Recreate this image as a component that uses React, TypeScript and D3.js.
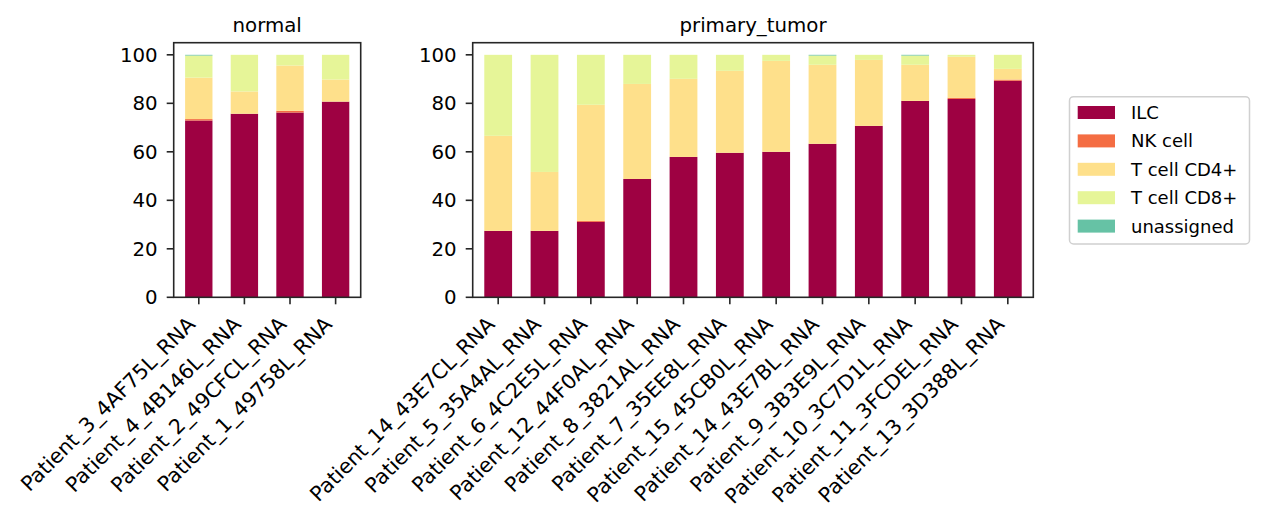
import React, { useRef, useEffect } from 'react';
import * as d3 from 'd3';

const cellTypes = ['ILC', 'NK cell', 'T cell CD4+', 'T cell CD8+', 'unassigned'];
const cellColors = ['#9e0142', '#f46d43', '#fee08b', '#e6f598', '#66c2a5'];

const normalSamples = [
  'Patient_3_4AF75L_RNA',
  'Patient_4_4B146L_RNA',
  'Patient_2_49CFCL_RNA',
  'Patient_1_49758L_RNA',
];
const normalILC = [72.9, 75.7, 76.2, 80.7];
const normalNK = [0.6, 0, 0.7, 0];
const normalCD4 = [17.1, 9.2, 18.7, 9.1];
const normalCD8 = [9.1, 15.1, 4.4, 10.2];
const normalUnassigned = [0.3, 0, 0, 0];

const tumorSamples = [
  'Patient_14_43E7CL_RNA',
  'Patient_5_35A4AL_RNA',
  'Patient_6_4C2E5L_RNA',
  'Patient_12_44F0AL_RNA',
  'Patient_8_3821AL_RNA',
  'Patient_7_35EE8L_RNA',
  'Patient_15_45CB0L_RNA',
  'Patient_14_43E7BL_RNA',
  'Patient_9_3B3E9L_RNA',
  'Patient_10_3C7D1L_RNA',
  'Patient_11_3FCDEL_RNA',
  'Patient_13_3D388L_RNA',
];
const tumorILC = [27.4, 27.4, 31.1, 48.8, 57.9, 59.6, 60.0, 63.3, 70.7, 81.0, 81.8, 89.3];
const tumorNK = [0, 0, 0.4, 0, 0, 0, 0, 0, 0, 0, 0.5, 0.5];
const tumorCD4 = [39.2, 24.3, 47.9, 39.2, 32.2, 33.8, 37.5, 32.6, 27.2, 14.9, 16.9, 4.4];
const tumorCD8 = [33.4, 48.3, 20.6, 12.0, 9.9, 6.6, 2.5, 3.8, 2.1, 3.8, 0.8, 5.8];
const tumorUnassigned = [0, 0, 0, 0, 0, 0, 0, 0.3, 0, 0.3, 0, 0];

const yTicks = [0, 20, 40, 60, 80, 100];

const WIDTH = 1263;
const HEIGHT = 524;
const FONT = '"DejaVu Sans", sans-serif';
const INK = '#262626';

interface Panel {
  title: string;
  samples: string[];
  series: number[][];
  left: number;
  right: number;
}

const App: React.FC = () => {
  const svgRef = useRef<SVGSVGElement>(null);

  useEffect(() => {
    if (!svgRef.current) return;
    const root = d3.select(svgRef.current);
    root.selectAll('*').remove();

    const top = 42.7;
    const bottom = 297.3;
    const y = d3.scaleLinear().domain([0, 105]).range([bottom, top]);

    const panels: Panel[] = [
      {
        title: 'normal',
        samples: normalSamples,
        series: [normalILC, normalNK, normalCD4, normalCD8, normalUnassigned],
        left: 173.7,
        right: 360.7,
      },
      {
        title: 'primary_tumor',
        samples: tumorSamples,
        series: [tumorILC, tumorNK, tumorCD4, tumorCD8, tumorUnassigned],
        left: 472.7,
        right: 1033.3,
      },
    ];

    panels.forEach(panel => {
      const n = panel.samples.length;
      const x = d3.scaleLinear().domain([-0.55, n - 0.45]).range([panel.left, panel.right]);
      const barW = x(0.6) - x(0);

      const rows = panel.samples.map((s, i) => {
        const row: Record<string, number | string> = { sample: s, idx: i };
        cellTypes.forEach((c, k) => (row[c] = panel.series[k][i]));
        return row;
      });
      const stacked = d3.stack<Record<string, number | string>>().keys(cellTypes)(rows);

      const g = root.append('g');

      stacked.forEach((layer, k) => {
        g.append('g')
          .selectAll('rect')
          .data(layer)
          .enter()
          .append('rect')
          .attr('x', (_d, i) => x(i) - barW / 2)
          .attr('width', barW)
          .attr('y', d => y(d[1]))
          .attr('height', d => Math.max(0, y(d[0]) - y(d[1])))
          .attr('fill', cellColors[k]);
      });

      // frame
      g.append('rect')
        .attr('x', panel.left)
        .attr('y', top)
        .attr('width', panel.right - panel.left)
        .attr('height', bottom - top)
        .attr('fill', 'none')
        .attr('stroke', INK)
        .attr('stroke-width', 1.6);

      // y axis
      const yAxis = g.append('g');
      yTicks.forEach(t => {
        yAxis
          .append('line')
          .attr('x1', panel.left - 7)
          .attr('x2', panel.left)
          .attr('y1', y(t))
          .attr('y2', y(t))
          .attr('stroke', INK)
          .attr('stroke-width', 1.6);
        yAxis
          .append('text')
          .attr('x', panel.left - 16)
          .attr('y', y(t))
          .attr('dy', '0.36em')
          .attr('text-anchor', 'end')
          .attr('font-family', FONT)
          .attr('font-size', 19.8)
          .attr('fill', 'black')
          .text(t);
      });

      // x axis
      const xAxis = g.append('g');
      panel.samples.forEach((s, i) => {
        const tx = x(i);
        xAxis
          .append('line')
          .attr('x1', tx)
          .attr('x2', tx)
          .attr('y1', bottom)
          .attr('y2', bottom + 7)
          .attr('stroke', INK)
          .attr('stroke-width', 1.6);
        const ax = tx - 7.5;
        const ay = bottom + 23;
        xAxis
          .append('text')
          .attr('x', ax)
          .attr('y', ay)
          .attr('dy', '0.36em')
          .attr('text-anchor', 'end')
          .attr('transform', `rotate(-45, ${ax}, ${ay})`)
          .attr('font-family', FONT)
          .attr('font-size', 20.6)
          .attr('fill', 'black')
          .text(s);
      });

      // title
      g.append('text')
        .attr('x', (panel.left + panel.right) / 2)
        .attr('y', 31.7)
        .attr('text-anchor', 'middle')
        .attr('font-family', FONT)
        .attr('font-size', 19.8)
        .attr('fill', 'black')
        .text(panel.title);
    });

    // legend
    const legend = root.append('g');
    legend
      .append('rect')
      .attr('x', 1069.5)
      .attr('y', 96.7)
      .attr('width', 180)
      .attr('height', 147.3)
      .attr('rx', 4)
      .attr('fill', 'white')
      .attr('fill-opacity', 0.8)
      .attr('stroke', '#d0d0d0')
      .attr('stroke-width', 1.5);

    cellTypes.forEach((c, k) => {
      const cy = 112.5 + k * 28.4;
      legend
        .append('rect')
        .attr('x', 1077.7)
        .attr('y', cy - 6.5)
        .attr('width', 37.3)
        .attr('height', 13)
        .attr('fill', cellColors[k]);
      legend
        .append('text')
        .attr('x', 1131)
        .attr('y', cy)
        .attr('dy', '0.36em')
        .attr('font-family', FONT)
        .attr('font-size', 18)
        .attr('fill', 'black')
        .text(c);
    });
  }, []);

  return (
    <svg
      ref={svgRef}
      width={WIDTH}
      height={HEIGHT}
      style={{ position: 'absolute', left: 0, top: 0, background: 'white' }}
    />
  );
};

export default App;
